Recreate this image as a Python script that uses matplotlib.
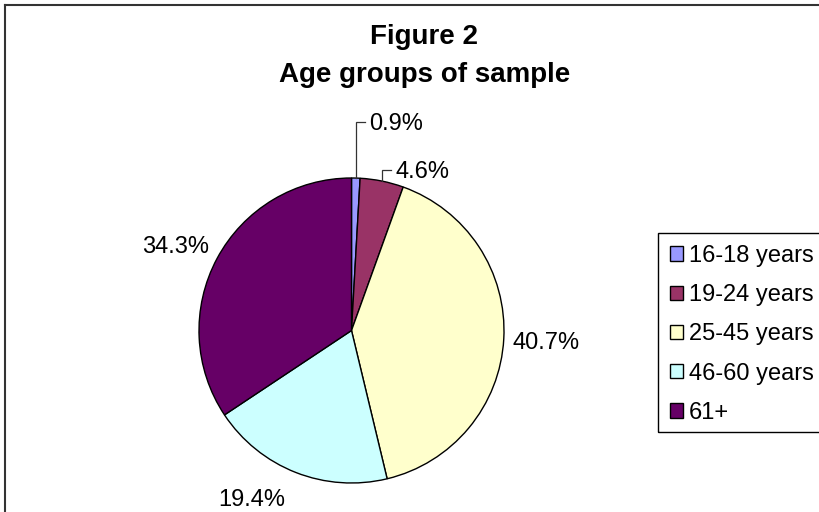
import matplotlib
matplotlib.use("Agg")
import matplotlib.pyplot as plt
import matplotlib.transforms as mtransforms
import numpy as np
from matplotlib.lines import Line2D
from matplotlib.patches import Rectangle

categories = ["16-18 years", "19-24 years", "25-45 years", "46-60 years", "61+"]
shares = [0.9, 4.6, 40.7, 19.4, 34.3]
pct_labels = ["0.9%", "4.6%", "40.7%", "19.4%", "34.3%"]
colors = ["#9999FF", "#993366", "#FFFFCC", "#CCFFFF", "#660066"]
title_text = "Figure 2\nAge groups of sample"

plt.rcParams['font.family'] = ['Liberation Sans', 'DejaVu Sans']

W, H = 820, 512
fig = plt.figure(figsize=(W / 100, H / 100), dpi=100)
fig.patch.set_facecolor('white')

# pie geometry (pixels)
cx, cy, R = 351.5, 330.5, 152.5
ax = fig.add_axes([0, 0, 1, 1])
wedges, _ = ax.pie(shares, colors=colors, startangle=90, counterclock=False,
                   radius=1, wedgeprops=dict(edgecolor='black', linewidth=1.0))
ax.set_aspect('auto')
ax.set_xlim(-cx / R, (W - cx) / R)
ax.set_ylim(-(H - cy) / R, cy / R)
ax.axis('off')

txt_tr = mtransforms.offset_copy(ax.transData, fig=fig, x=0, y=-2, units='dots')

# label layout: (kind, radius, angle tweak)
label_layout = [("leader", 1.368, 0), ("leader", 1.074, 0),
                ("plain", 1.28, 0), ("plain", 1.28, -9.4), ("plain", 1.28, 2.3)]
for w, txt, (kind, rl, dth) in zip(wedges, pct_labels, label_layout):
    th = np.deg2rad((w.theta1 + w.theta2) / 2 + dth)
    if kind == "leader":
        ex, ey = np.cos(th), np.sin(th)
        ly = rl * np.sin(th)
        ax.plot([ex, ex, ex + 0.06], [ey, ly, ly], color='#333333', lw=0.9,
                solid_joinstyle='miter', clip_on=False)
        ax.text(ex + 0.09, ly, txt, ha='left', va='center', fontsize=17,
                transform=txt_tr)
    else:
        ax.text(rl * np.cos(th), rl * np.sin(th), txt, ha='center', va='center',
                fontsize=17, transform=txt_tr)

fig.text(424.5 / W, 1 - 56 / H, title_text, ha='center', va='center',
         fontsize=20, fontweight='bold', linespacing=1.55)

leg = ax.legend(wedges, categories, loc='upper left',
                bbox_to_anchor=(658 / W, 1 - 233 / H),
                bbox_transform=fig.transFigure,
                fontsize=17, frameon=False,
                handlelength=0.55, handleheight=0.55, handletextpad=0.25,
                labelspacing=0.73, borderpad=0.5, borderaxespad=0)

# legend box (extends past the right edge, as in the reference)
fig.add_artist(Rectangle((658 / W, 1 - 432 / H), (860 - 658) / W, (432 - 233) / H,
                         transform=fig.transFigure, facecolor='none',
                         edgecolor='black', linewidth=1.0, clip_on=False))

# outer chart border (left and top visible)
fig.add_artist(Line2D([5 / W, 5 / W], [0, 1 - 5 / H], color='#333333', lw=1.5,
                      transform=fig.transFigure))
fig.add_artist(Line2D([5 / W, 1.05], [1 - 5 / H, 1 - 5 / H], color='#333333', lw=1.5,
                      transform=fig.transFigure))

fig.savefig("out.png", dpi=100)
